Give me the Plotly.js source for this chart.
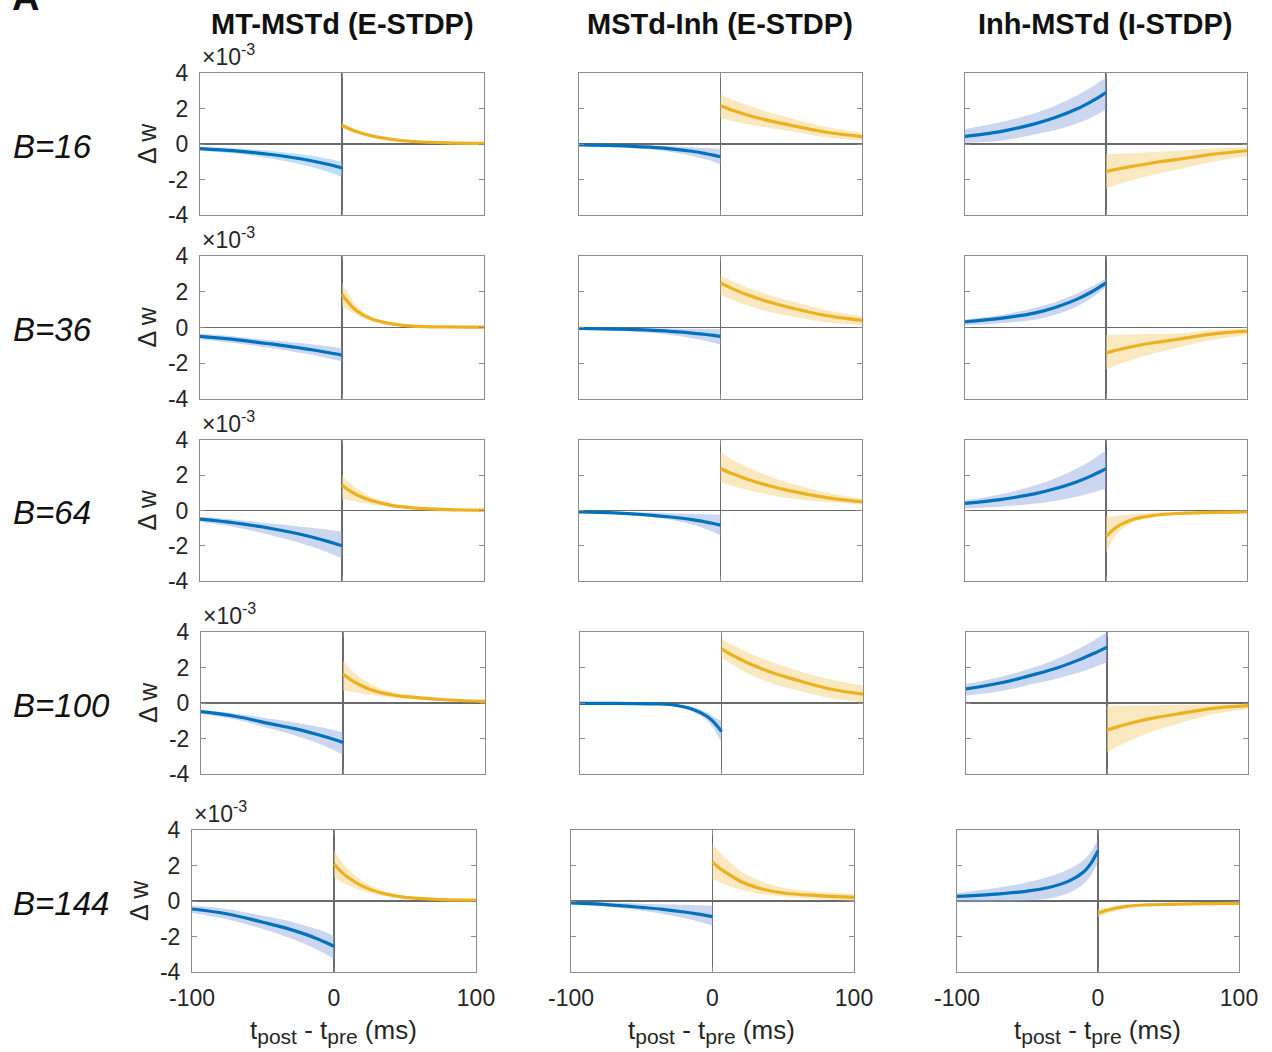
<!DOCTYPE html>
<html>
<head>
<meta charset="utf-8">
<script src="https://cdn.plot.ly/plotly-3.0.1.min.js"></script>
<style>
  html, body { margin: 0; padding: 0; background: #fff; }
  #chart { width: 1272px; height: 1052px; }
</style>
</head>
<body>
<div id="chart"></div>
<script>
// Spike-timing windows, values in units of 1e-3.
// Sample times (ms): pre side (post before pre) and post side.
const xPre = [-100, -75, -50, -35, -20, -10, -5, 0];
const xPost = [0, 5, 10, 20, 35, 50, 75, 100];

const rowLabels = ['B=16', 'B=36', 'B=64', 'B=100', 'B=144'];
const colTitles = ['MT-MSTd (E-STDP)', 'MSTd-Inh (E-STDP)', 'Inh-MSTd (I-STDP)'];
const xTickVals = [-100, 0, 100];
const xTickText = ['-100', '0', '100'];
const yTickVals = [-4, -2, 0, 2, 4];
const yTickText = ['-4', '-2', '0', '2', '4'];

// MT-MSTd (E-STDP): mean and band edges, one row per B
const mtPreMean = [
  [-0.26, -0.39, -0.59, -0.76, -0.97, -1.14, -1.24, -1.35],
  [-0.50, -0.68, -0.92, -1.08, -1.26, -1.40, -1.47, -1.55],
  [-0.49, -0.71, -1.02, -1.25, -1.53, -1.75, -1.87, -2.00],
  [-0.49, -0.76, -1.19, -1.43, -1.73, -1.96, -2.09, -2.22],
  [-0.45, -0.73, -1.20, -1.50, -1.88, -2.19, -2.37, -2.55]
];
const mtPreLo = [
  [-0.36, -0.54, -0.81, -1.04, -1.33, -1.57, -1.70, -1.85],
  [-0.67, -0.88, -1.15, -1.34, -1.55, -1.72, -1.81, -1.90],
  [-0.64, -0.95, -1.40, -1.71, -2.09, -2.38, -2.55, -2.72],
  [-0.62, -0.95, -1.47, -1.80, -2.20, -2.53, -2.70, -2.89],
  [-0.68, -1.04, -1.58, -1.97, -2.44, -2.82, -3.03, -3.26]
];
const mtPreHi = [
  [-0.15, -0.24, -0.39, -0.52, -0.68, -0.83, -0.91, -1.00],
  [-0.35, -0.50, -0.72, -0.83, -0.95, -1.05, -1.10, -1.15],
  [-0.36, -0.52, -0.74, -0.86, -0.99, -1.09, -1.14, -1.20],
  [-0.40, -0.60, -0.90, -1.08, -1.30, -1.47, -1.56, -1.66],
  [-0.26, -0.46, -0.83, -1.07, -1.39, -1.64, -1.79, -1.95]
];
const mtPostMean = [
  [1.05, 0.86, 0.70, 0.47, 0.26, 0.14, 0.06, 0.03],
  [1.85, 1.35, 0.95, 0.50, 0.20, 0.08, 0.03, 0.02],
  [1.43, 1.14, 0.91, 0.58, 0.29, 0.15, 0.05, 0.02],
  [1.64, 1.34, 1.10, 0.74, 0.45, 0.32, 0.17, 0.09],
  [2.08, 1.66, 1.32, 0.84, 0.42, 0.20, 0.08, 0.05]
];
const mtPostLo = [
  [0.92, 0.74, 0.60, 0.40, 0.22, 0.11, 0.04, 0.02],
  [1.20, 0.95, 0.72, 0.38, 0.14, 0.05, 0.01, 0.00],
  [0.68, 0.58, 0.49, 0.35, 0.19, 0.10, 0.03, 0.01],
  [0.70, 0.65, 0.58, 0.45, 0.30, 0.20, 0.10, 0.04],
  [1.33, 1.08, 0.88, 0.57, 0.28, 0.13, 0.04, 0.02]
];
const mtPostHi = [
  [1.22, 1.00, 0.82, 0.55, 0.31, 0.17, 0.08, 0.04],
  [2.50, 1.80, 1.25, 0.63, 0.26, 0.11, 0.05, 0.04],
  [2.00, 1.60, 1.28, 0.80, 0.40, 0.20, 0.07, 0.04],
  [2.40, 1.95, 1.58, 1.05, 0.60, 0.42, 0.23, 0.14],
  [2.83, 2.25, 1.80, 1.13, 0.58, 0.30, 0.12, 0.08]
];

// MSTd-Inh (E-STDP)
const miPreMean = [
  [-0.05, -0.09, -0.18, -0.27, -0.41, -0.55, -0.63, -0.72],
  [-0.05, -0.09, -0.15, -0.22, -0.31, -0.39, -0.44, -0.50],
  [-0.08, -0.14, -0.26, -0.37, -0.52, -0.66, -0.74, -0.83],
  [-0.02, -0.02, -0.05, -0.10, -0.36, -0.76, -1.12, -1.60],
  [-0.11, -0.20, -0.36, -0.47, -0.62, -0.74, -0.81, -0.88]
];
const miPreLo = [
  [-0.08, -0.15, -0.30, -0.45, -0.67, -0.88, -1.00, -1.15],
  [-0.08, -0.15, -0.30, -0.42, -0.60, -0.75, -0.85, -0.95],
  [-0.10, -0.19, -0.35, -0.53, -0.80, -1.06, -1.22, -1.40],
  [-0.04, -0.04, -0.08, -0.16, -0.50, -1.00, -1.50, -2.22],
  [-0.20, -0.33, -0.55, -0.73, -0.96, -1.16, -1.27, -1.39]
];
const miPreHi = [
  [-0.02, -0.04, -0.08, -0.12, -0.18, -0.23, -0.26, -0.30],
  [-0.01, -0.02, -0.04, -0.05, -0.07, -0.08, -0.09, -0.10],
  [-0.05, -0.08, -0.12, -0.15, -0.18, -0.21, -0.22, -0.23],
  [0.00, 0.00, -0.02, -0.06, -0.24, -0.55, -0.80, -1.00],
  [-0.03, -0.07, -0.15, -0.18, -0.21, -0.24, -0.25, -0.26]
];
const miPostMean = [
  [2.15, 2.00, 1.86, 1.61, 1.30, 1.05, 0.66, 0.42],
  [2.50, 2.30, 2.12, 1.80, 1.41, 1.10, 0.66, 0.40],
  [2.38, 2.20, 2.04, 1.75, 1.39, 1.10, 0.73, 0.49],
  [3.05, 2.81, 2.60, 2.21, 1.73, 1.36, 0.82, 0.50],
  [2.18, 1.85, 1.58, 1.10, 0.68, 0.45, 0.30, 0.20]
];
const miPostLo = [
  [1.45, 1.35, 1.26, 1.10, 0.89, 0.72, 0.36, 0.18],
  [1.85, 1.66, 1.49, 1.20, 0.87, 0.63, 0.29, 0.13],
  [1.62, 1.49, 1.36, 1.15, 0.88, 0.68, 0.48, 0.34],
  [2.58, 2.29, 2.04, 1.61, 1.13, 0.79, 0.30, 0.04],
  [1.24, 1.05, 0.90, 0.62, 0.38, 0.25, 0.10, 0.02]
];
const miPostHi = [
  [2.80, 2.62, 2.46, 2.15, 1.77, 1.45, 0.96, 0.64],
  [2.90, 2.71, 2.54, 2.21, 1.81, 1.48, 0.97, 0.63],
  [3.28, 3.04, 2.81, 2.42, 1.92, 1.53, 1.02, 0.68],
  [3.60, 3.38, 3.18, 2.80, 2.32, 1.92, 1.37, 0.98],
  [3.20, 2.75, 2.35, 1.68, 1.10, 0.75, 0.52, 0.39]
];

// Inh-MSTd (I-STDP)
const imPreMean = [
  [0.43, 0.70, 1.15, 1.52, 2.00, 2.41, 2.64, 2.90],
  [0.32, 0.51, 0.82, 1.15, 1.60, 2.00, 2.24, 2.50],
  [0.40, 0.62, 0.96, 1.26, 1.65, 1.98, 2.17, 2.38],
  [0.79, 1.14, 1.64, 1.99, 2.43, 2.77, 2.95, 3.15],
  [0.26, 0.37, 0.56, 0.76, 1.15, 1.65, 2.12, 2.83]
];
const imPreLo = [
  [0.06, 0.18, 0.55, 0.80, 1.18, 1.51, 1.72, 1.95],
  [0.13, 0.24, 0.45, 0.74, 1.20, 1.66, 1.95, 2.30],
  [0.11, 0.21, 0.40, 0.56, 0.79, 1.00, 1.12, 1.25],
  [0.41, 0.67, 1.11, 1.38, 1.72, 1.99, 2.14, 2.30],
  [-0.07, -0.05, 0.02, 0.14, 0.48, 0.98, 1.45, 2.18]
];
const imPreHi = [
  [0.85, 1.22, 1.75, 2.20, 2.76, 3.22, 3.48, 3.75],
  [0.45, 0.70, 1.10, 1.45, 1.91, 2.29, 2.51, 2.75],
  [0.58, 0.91, 1.43, 1.86, 2.41, 2.87, 3.13, 3.42],
  [1.07, 1.48, 2.05, 2.51, 3.06, 3.50, 3.74, 4.00],
  [0.45, 0.70, 1.05, 1.36, 1.82, 2.32, 2.78, 3.49]
];
const imPostMean = [
  [-1.55, -1.46, -1.38, -1.24, -1.04, -0.88, -0.58, -0.38],
  [-1.42, -1.32, -1.22, -1.05, -0.84, -0.67, -0.37, -0.20],
  [-1.49, -1.10, -0.82, -0.48, -0.27, -0.17, -0.11, -0.08],
  [-1.53, -1.40, -1.28, -1.07, -0.81, -0.62, -0.30, -0.15],
  [-0.68, -0.55, -0.45, -0.30, -0.22, -0.19, -0.15, -0.13]
];
const imPostLo = [
  [-2.50, -2.37, -2.24, -2.01, -1.71, -1.45, -1.01, -0.70],
  [-2.35, -2.19, -2.03, -1.76, -1.42, -1.14, -0.70, -0.43],
  [-2.43, -1.65, -1.15, -0.65, -0.36, -0.24, -0.16, -0.12],
  [-2.79, -2.56, -2.35, -1.99, -1.54, -1.19, -0.64, -0.34],
  [-0.92, -0.75, -0.62, -0.42, -0.30, -0.25, -0.20, -0.18]
];
const imPostHi = [
  [-0.58, -0.56, -0.54, -0.50, -0.45, -0.40, -0.26, -0.17],
  [-0.43, -0.42, -0.41, -0.39, -0.37, -0.35, -0.16, -0.07],
  [-0.36, -0.32, -0.28, -0.20, -0.12, -0.08, -0.05, -0.04],
  [-0.15, -0.15, -0.15, -0.14, -0.12, -0.10, -0.07, -0.05],
  [-0.49, -0.40, -0.32, -0.20, -0.15, -0.13, -0.10, -0.08]
];

const columns = [
  { pre: [mtPreMean, mtPreLo, mtPreHi], post: [mtPostMean, mtPostLo, mtPostHi] },
  { pre: [miPreMean, miPreLo, miPreHi], post: [miPostMean, miPostLo, miPostHi] },
  { pre: [imPreMean, imPreLo, imPreHi], post: [imPostMean, imPostLo, imPostHi] }
];

// ---- geometry (pixels in a 1272 x 1052 page) ----
const W = 1272, H = 1052;
const fx = v => v / W;
const fy = v => 1 - v / H;
const rowSpan = [[73, 215], [256, 399], [440, 581], [632, 774], [830, 972]];
const colSpan = [
  [[200, 484], [579, 862], [965, 1247]],
  [[200, 484], [579, 862], [965, 1247]],
  [[200, 484], [579, 862], [965, 1247]],
  [[201, 485], [580, 863], [966, 1248]],
  [[192, 476], [571, 854], [957, 1239]]
];

const FONT = 'Liberation Sans, Arial, Helvetica, sans-serif';
const TXT = '#262626';
const BLUE = '#0072BD';
const ORANGE = '#EDB120';
const BLUE_BAND = 'rgba(140,165,225,0.45)';
const BLUE_BAND_LIGHT = 'rgba(130,190,235,0.5)';
const ORANGE_BAND = 'rgba(245,215,140,0.55)';

const traces = [];
const layout = {
  width: W, height: H,
  margin: { l: 0, r: 0, t: 0, b: 0 },
  paper_bgcolor: '#fff', plot_bgcolor: '#fff',
  showlegend: false,
  font: { family: FONT, color: TXT },
  annotations: []
};

function band(x, lo, hi, mean, color, fill, xa, ya) {
  traces.push({ x: x, y: lo, xaxis: xa, yaxis: ya, mode: 'lines',
    line: { width: 0, shape: 'spline', color: fill }, hoverinfo: 'skip' });
  traces.push({ x: x, y: hi, xaxis: xa, yaxis: ya, mode: 'lines', fill: 'tonexty',
    fillcolor: fill, line: { width: 0, shape: 'spline', color: fill }, hoverinfo: 'skip' });
  traces.push({ x: x, y: mean, xaxis: xa, yaxis: ya, mode: 'lines',
    line: { width: 3.2, shape: 'spline', color: color } });
}

for (let r = 0; r < 5; r++) {
  for (let c = 0; c < 3; c++) {
    const k = r * 3 + c + 1;
    const xa = k === 1 ? 'x' : 'x' + k;
    const ya = k === 1 ? 'y' : 'y' + k;
    const col = columns[c];
    const blueFill = (r === 0 && c === 0) ? BLUE_BAND_LIGHT : BLUE_BAND;
    band(xPre, col.pre[1][r], col.pre[2][r], col.pre[0][r], BLUE, blueFill, xa, ya);
    band(xPost, col.post[1][r], col.post[2][r], col.post[0][r], ORANGE, ORANGE_BAND, xa, ya);

    const [x0, x1] = colSpan[r][c];
    const [y0, y1] = rowSpan[r];
    layout[k === 1 ? 'xaxis' : 'xaxis' + k] = {
      domain: [fx(x0), fx(x1)], anchor: ya, range: [-100, 100],
      showgrid: false, zeroline: true, zerolinecolor: '#6a6a6a', zerolinewidth: 1.2,
      showline: true, mirror: 'ticks', linecolor: '#8c8c8c', linewidth: 1,
      ticks: 'inside', ticklen: 5, tickcolor: '#8c8c8c',
      tickmode: 'array', tickvals: xTickVals, ticktext: xTickText,
      showticklabels: r === 4, ticklabelstandoff: 5,
      tickfont: { family: FONT, size: 23, color: TXT }, fixedrange: true
    };
    layout[k === 1 ? 'yaxis' : 'yaxis' + k] = {
      domain: [fy(y1), fy(y0)], anchor: xa, range: [-4, 4],
      showgrid: false, zeroline: true, zerolinecolor: '#6a6a6a', zerolinewidth: 1.2,
      showline: true, mirror: 'ticks', linecolor: '#8c8c8c', linewidth: 1,
      ticks: 'inside', ticklen: 5, tickcolor: '#8c8c8c',
      tickmode: 'array', tickvals: yTickVals, ticktext: yTickText,
      showticklabels: c === 0, ticklabelstandoff: 6,
      tickfont: { family: FONT, size: 23, color: TXT }, fixedrange: true
    };

    if (c === 0) {
      const yc = (y0 + y1) / 2;
      layout.annotations.push({
        xref: 'paper', yref: 'paper', x: fx(11), y: fy(yc + 2), xanchor: 'left', yanchor: 'middle',
        text: rowLabels[r], showarrow: false,
        font: { family: FONT, size: 33, color: '#111', style: 'italic' }
      });
      layout.annotations.push({
        xref: 'paper', yref: 'paper', x: fx(x0 - 53), y: fy(yc), xanchor: 'center', yanchor: 'middle',
        text: '\u0394 w', textangle: -90, showarrow: false,
        font: { family: FONT, size: 25, color: TXT }
      });
      layout.annotations.push({
        xref: 'paper', yref: 'paper', x: fx(x0), y: fy(y0 - 1), xanchor: 'left', yanchor: 'bottom',
        text: '\u00d710<sup>-3</sup>', showarrow: false,
        font: { family: FONT, size: 23, color: TXT }
      });
    }
    if (r === 4) {
      layout.annotations.push({
        xref: 'paper', yref: 'paper', x: fx((x0 + x1) / 2 - 1), y: fy(1031), xanchor: 'center', yanchor: 'middle',
        text: 't<sub><span style="font-size:21px">post</span></sub> - t<sub><span style="font-size:21px">pre</span></sub> (ms)',
        showarrow: false,
        font: { family: FONT, size: 26, color: TXT }
      });
    }
  }
}

// Column headings
const titleCenters = [342, 720, 1105];
colTitles.forEach((t, i) => {
  layout.annotations.push({
    xref: 'paper', yref: 'paper', x: fx(titleCenters[i]), y: fy(24), xanchor: 'center', yanchor: 'middle',
    text: t, showarrow: false,
    font: { family: FONT, size: 29, color: '#111', weight: 'bold' }
  });
});

// Panel letter (clipped at the top edge)
layout.annotations.push({
  xref: 'paper', yref: 'paper', x: fx(10), y: fy(20), xanchor: 'left', yanchor: 'bottom',
  text: 'A', showarrow: false,
  font: { family: FONT, size: 38, color: '#111', weight: 'bold' }
});

Plotly.newPlot('chart', traces, layout, { displayModeBar: false, staticPlot: true });
</script>
</body>
</html>
